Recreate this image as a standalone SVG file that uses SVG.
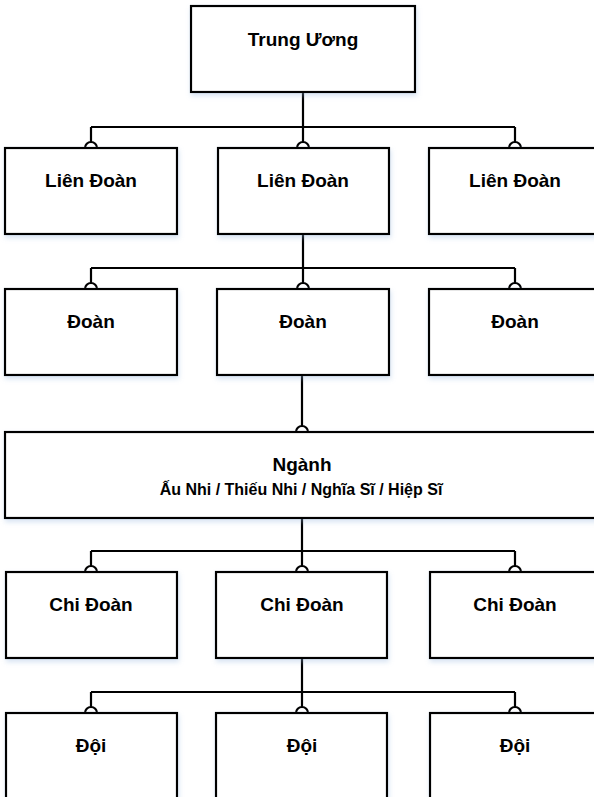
<svg xmlns="http://www.w3.org/2000/svg" width="594" height="797" viewBox="0 0 594 797">
<style>
.box{fill:#ffffff;stroke:#000000;stroke-width:2.2;filter:url(#sh)}
.t{font-family:"Liberation Sans",Arial,sans-serif;font-weight:bold;font-size:19px;fill:#000000;text-anchor:middle}
.s{font-family:"Liberation Sans",Arial,sans-serif;font-weight:bold;font-size:16px;fill:#000000;text-anchor:middle}
.c{fill:none;stroke:#000000;stroke-width:2.2}
</style>
<defs>
<filter id="sh" x="-10%" y="-10%" width="130%" height="140%">
<feDropShadow dx="1" dy="3" stdDeviation="2.5" flood-color="#8fb0dd" flood-opacity="0.35"/>
</filter>
</defs>
<rect width="594" height="797" fill="#ffffff"/>
<g id="connectors">
<path class="c" d="M303,92 V127 M91,127 H515 M91,127 V142 M303,127 V142 M515,127 V142"/>
<path class="c" d="M85,148 A6,6 0 0 1 97,148 M297,148 A6,6 0 0 1 309,148 M509,148 A6,6 0 0 1 521,148"/>
<path class="c" d="M303,234 V268 M91,268 H515 M91,268 V283 M303,268 V283 M515,268 V283"/>
<path class="c" d="M85,289 A6,6 0 0 1 97,289 M297,289 A6,6 0 0 1 309,289 M509,289 A6,6 0 0 1 521,289"/>
<path class="c" d="M302,375 V426 M296,432 A6,6 0 0 1 308,432"/>
<path class="c" d="M302,518 V551 M91,551 H515 M91,551 V566 M302,551 V566 M515,551 V566"/>
<path class="c" d="M85,572 A6,6 0 0 1 97,572 M296,572 A6,6 0 0 1 308,572 M509,572 A6,6 0 0 1 521,572"/>
<path class="c" d="M302,658 V692 M91,692 H515 M91,692 V707 M302,692 V707 M515,692 V707"/>
<path class="c" d="M85,713 A6,6 0 0 1 97,713 M296,713 A6,6 0 0 1 308,713 M509,713 A6,6 0 0 1 521,713"/>
</g>
<g id="trung-uong"><rect class="box" x="191" y="6" width="224" height="86"/><text class="t" x="303" y="46">Trung Ương</text></g>
<g id="lien-doan-1"><rect class="box" x="5" y="148" width="172" height="86"/><text class="t" x="91" y="187">Liên Đoàn</text></g>
<g id="lien-doan-2"><rect class="box" x="218" y="148" width="171" height="86"/><text class="t" x="303" y="187">Liên Đoàn</text></g>
<g id="lien-doan-3"><rect class="box" x="429" y="148" width="172" height="86"/><text class="t" x="515" y="187">Liên Đoàn</text></g>
<g id="doan-1"><rect class="box" x="5" y="289" width="172" height="86"/><text class="t" x="91" y="328">Đoàn</text></g>
<g id="doan-2"><rect class="box" x="217" y="289" width="172" height="86"/><text class="t" x="303" y="328">Đoàn</text></g>
<g id="doan-3"><rect class="box" x="429" y="289" width="172" height="86"/><text class="t" x="515" y="328">Đoàn</text></g>
<g id="nganh"><rect class="box" x="5" y="432" width="596" height="86"/><text class="t" x="302" y="471">Ngành</text><text class="s" x="301" y="495">Ấu Nhi / Thiếu Nhi / Nghĩa Sĩ / Hiệp Sĩ</text></g>
<g id="chi-doan-1"><rect class="box" x="6" y="572" width="171" height="86"/><text class="t" x="91" y="611">Chi Đoàn</text></g>
<g id="chi-doan-2"><rect class="box" x="216" y="572" width="171" height="86"/><text class="t" x="302" y="611">Chi Đoàn</text></g>
<g id="chi-doan-3"><rect class="box" x="430" y="572" width="171" height="86"/><text class="t" x="515" y="611">Chi Đoàn</text></g>
<g id="doi-1"><rect class="box" x="6" y="713" width="171" height="90"/><text class="t" x="91" y="752">Đội</text></g>
<g id="doi-2"><rect class="box" x="216" y="713" width="171" height="90"/><text class="t" x="302" y="752">Đội</text></g>
<g id="doi-3"><rect class="box" x="430" y="713" width="171" height="90"/><text class="t" x="515" y="752">Đội</text></g>
</svg>
